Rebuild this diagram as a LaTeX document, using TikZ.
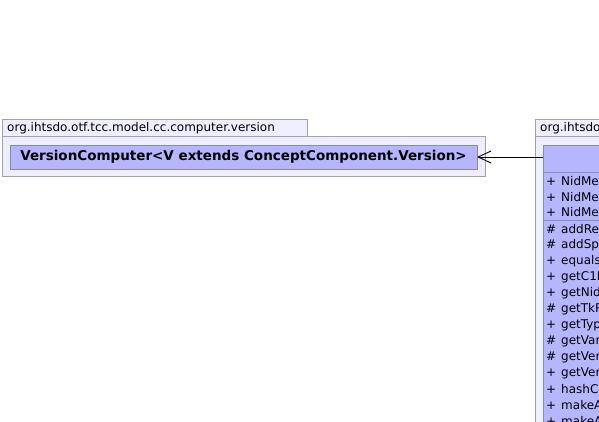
\documentclass[tikz,border=0pt]{standalone}
\usepackage{fontspec}
\setmainfont{DejaVu Sans}
\usetikzlibrary{arrows.meta,calc,positioning}
\definecolor{PkgFill}{HTML}{EEEEFF}
\definecolor{PkgLine}{HTML}{A2A2AE}
\definecolor{ClsFill}{HTML}{B6B6FF}
\definecolor{ClsLine}{HTML}{8A8AAE}

\begin{document}
\begin{tikzpicture}[x=1pt,y=-1pt,>={Straight Barb[length=13pt,width=12pt]},
    pkg/.style={draw=PkgLine,fill=PkgFill,line width=0.9pt,anchor=north west,inner sep=0pt,outer sep=0pt},
    cls/.style={draw=ClsLine,fill=ClsFill,line width=0.9pt,anchor=north west,inner sep=0pt,outer sep=0pt},
    member/.style={anchor=west,inner sep=0pt,font=\fontsize{12}{14}\selectfont}]
      \clip (0,0) rectangle (599,422);
      % left package with the version computer
      \node[pkg,minimum width=305pt,minimum height=17pt] (vpTab) at (2,119) {};
      \node[anchor=west,inner sep=0pt,font=\fontsize{12}{14}\selectfont] (vpName) at (7,128) {org.ihtsdo.otf.tcc.model.cc.computer.version};
      \node[pkg,minimum width=483pt,minimum height=40pt] (vpBody) at (2,136) {};
      \node[cls,minimum width=467pt,minimum height=24pt,font=\bfseries\fontsize{13.5}{15}\selectfont] (vc) at (10,145)
        {VersionComputer<V extends ConceptComponent.Version>};
      % right package, cut by the page edge
      \node[pkg,minimum width=90pt,minimum height=17pt] (npTab) at (535,119) {};
      \node[anchor=west,inner sep=0pt,font=\fontsize{12}{14}\selectfont] (npName) at (540,128) {org.ihtsdo};
      \node[pkg,minimum width=90pt,minimum height=320pt] (npBody) at (535,136) {};
      \node[cls,minimum width=80pt,minimum height=27pt] (nidHead) at (543,145) {};
      \node[cls,minimum width=80pt,minimum height=48pt] (nidAttr) at (543,172) {};
      \node[cls,minimum width=80pt,minimum height=230pt] (nidOps) at (543,220) {};
      \foreach \y/\v/\t [count=\i] in {181.5/+/NidMe,197/+/NidMe,212.5/+/NidMe}
        \node[member] (attr\i) at (546,\y) {\makebox[15pt][l]{\v}\t};
      \foreach \v/\t [count=\i] in {\#/addRe,\#/addSp,+/equals,+/getC1N,+/getNid,\#/getTkR,+/getTyp,
          \#/getVar,\#/getVer,+/getVer,+/hashC,+/makeA,+/makeA}
        \node[member] (op\i) at (546,{213+16*\i}) {\makebox[15pt][l]{\v}\t};
      \draw[->,line width=0.9pt] (nidHead.west |- vc.east) -- (vc.east);
    \end{tikzpicture}
\end{document}
